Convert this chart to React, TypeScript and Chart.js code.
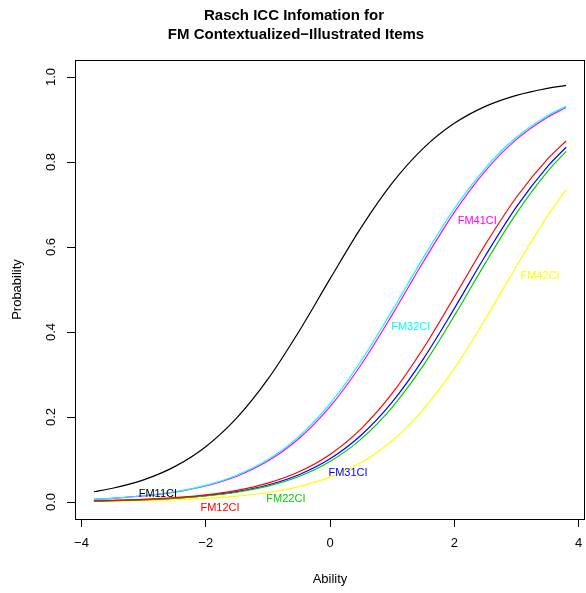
import React, { useEffect, useRef } from "react";
import { Chart, registerables } from "chart.js";

Chart.register(...registerables);

const abilities = [-3.8, -3.5, -3, -2.5, -2, -1.5, -1, -0.5, 0, 0.5, 1, 1.5, 2, 2.5, 3, 3.5, 3.8];

const fm11 = [0.0241, 0.0323, 0.0521, 0.0832, 0.1301, 0.1978, 0.289, 0.4013, 0.525, 0.6457, 0.7503, 0.832, 0.8909, 0.9309, 0.9569, 0.9734, 0.9802];
const fm12 = [0.00281, 0.0038, 0.00624, 0.01025, 0.01679, 0.02738, 0.04436, 0.07108, 0.112, 0.1722, 0.2554, 0.3612, 0.4825, 0.6059, 0.7171, 0.8069, 0.8494];
const fm22 = [0.00235, 0.00317, 0.00522, 0.00858, 0.01406, 0.02298, 0.03732, 0.0601, 0.09535, 0.148, 0.2227, 0.3208, 0.4378, 0.5622, 0.6792, 0.7773, 0.825];
const fm31 = [0.00252, 0.0034, 0.0056, 0.00919, 0.01507, 0.0246, 0.03992, 0.06416, 0.1016, 0.1571, 0.2351, 0.3363, 0.4551, 0.5793, 0.6943, 0.7892, 0.8348];
const fm32 = [0.00669, 0.00902, 0.01477, 0.02413, 0.03917, 0.06297, 0.09975, 0.1545, 0.2315, 0.3318, 0.4502, 0.5744, 0.69, 0.7858, 0.8581, 0.9089, 0.9309];
const fm41 = [0.00643, 0.00867, 0.0142, 0.0232, 0.03769, 0.06064, 0.09622, 0.1493, 0.2244, 0.323, 0.4403, 0.5646, 0.6813, 0.779, 0.8532, 0.9055, 0.9282];
const fm42 = [0.00139, 0.00187, 0.00308, 0.00507, 0.00833, 0.01365, 0.02231, 0.03626, 0.05841, 0.09279, 0.1443, 0.2175, 0.3143, 0.4304, 0.5548, 0.6726, 0.735];

const itemNames = ["FM11CI", "FM12CI", "FM22CI", "FM31CI", "FM32CI", "FM41CI", "FM42CI"];
const itemColors = ["#000000", "#FF0000", "#00CD00", "#0000FF", "#00FFFF", "#FF00FF", "#FFFF00"];
const itemSeries = [fm11, fm12, fm22, fm31, fm32, fm41, fm42];
const labelX = [-2.77, -1.77, -0.71, 0.29, 1.3, 2.37, 3.38];
const labelY = [0.019, -0.014, 0.007, 0.068, 0.412, 0.661, 0.532];

const xTicks = [-4, -2, 0, 2, 4];
const yTicks = [0, 0.2, 0.4, 0.6, 0.8, 1.0];
const titleLines = ["Rasch ICC Infomation for", "FM Contextualized\u2212Illustrated Items"];
const xTitle = "Ability";
const yTitle = "Probability";

const FONT = "'Liberation Sans', Arial, Helvetica, sans-serif";

export default function App() {
  const ref = useRef<HTMLCanvasElement | null>(null);

  useEffect(() => {
    const canvas = ref.current;
    if (!canvas) return;

    const decor = {
      id: "decor",
      afterDatasetsDraw(chart: any) {
        const { ctx, scales } = chart;
        const xs = scales.x;
        const ys = scales.y;
        ctx.save();
        ctx.font = `11px ${FONT}`;
        ctx.textAlign = "center";
        ctx.textBaseline = "middle";
        itemNames.forEach((n, i) => {
          ctx.fillStyle = itemColors[i];
          ctx.fillText(n, xs.getPixelForValue(labelX[i]), ys.getPixelForValue(labelY[i]));
        });
        ctx.restore();
      },
      afterDraw(chart: any) {
        const { ctx, chartArea, scales } = chart;
        const ys = scales.y;
        ctx.save();
        ctx.strokeStyle = "#000";
        ctx.lineWidth = 1;
        ctx.strokeRect(chartArea.left + 0.5, chartArea.top + 0.5, chartArea.right - chartArea.left - 1, chartArea.bottom - chartArea.top);
        ctx.fillStyle = "#000";
        ctx.font = `13px ${FONT}`;
        ctx.textAlign = "center";
        ctx.textBaseline = "middle";
        yTicks.forEach((v) => {
          const py = ys.getPixelForValue(v);
          ctx.save();
          ctx.translate(51, py);
          ctx.rotate(-Math.PI / 2);
          ctx.fillText(v.toFixed(1), 0, 0);
          ctx.restore();
        });
        ctx.save();
        ctx.translate(17, (chartArea.top + chartArea.bottom) / 2);
        ctx.rotate(-Math.PI / 2);
        ctx.fillText(yTitle, 0, 0);
        ctx.restore();
        ctx.fillText(xTitle, (chartArea.left + chartArea.right) / 2, 579);
        ctx.font = `bold 15px ${FONT}`;
        ctx.fillText(titleLines[0], 294, 16);
        ctx.fillText(titleLines[1], 296, 35);
        ctx.restore();
      },
    };

    const chart = new Chart(canvas, {
      type: "line",
      data: {
        datasets: itemSeries.map((s, i) => ({
          label: itemNames[i],
          data: s.map((y, j) => ({ x: abilities[j], y })),
          borderColor: itemColors[i],
          backgroundColor: itemColors[i],
          borderWidth: 1.2,
          pointRadius: 0,
          fill: false,
          cubicInterpolationMode: "monotone" as const,
        })),
      },
      options: {
        animation: false,
        responsive: false,
        maintainAspectRatio: false,
        layout: { padding: { left: 0, top: 60, right: 1, bottom: 0 } },
        plugins: {
          legend: { display: false },
          title: { display: false },
          tooltip: { enabled: false },
        },
        scales: {
          x: {
            type: "linear",
            min: -4.104,
            max: 4.104,
            afterBuildTicks: (s: any) => {
              s.ticks = xTicks.map((v) => ({ value: v }));
            },
            afterFit: (s: any) => {
              s.height = 74;
              s.paddingLeft = 0;
              s.paddingRight = 0;
            },
            border: { display: false },
            grid: { drawOnChartArea: false, drawTicks: true, tickLength: 8, color: "#000", lineWidth: 1 },
            ticks: {
              color: "#000",
              font: { family: FONT, size: 13 },
              padding: 9,
              maxRotation: 0,
              callback: (v: any) => (Number(v) < 0 ? "\u2212" + Math.abs(Number(v)) : String(v)),
            },
          },
          y: {
            type: "linear",
            min: -0.04,
            max: 1.04,
            afterBuildTicks: (s: any) => {
              s.ticks = yTicks.map((v) => ({ value: v }));
            },
            afterFit: (s: any) => {
              s.width = 75;
              s.paddingTop = 0;
              s.paddingBottom = 0;
            },
            border: { display: false },
            grid: { drawOnChartArea: false, drawTicks: true, tickLength: 8, color: "#000", lineWidth: 1 },
            ticks: { display: false },
          },
        },
      },
      plugins: [decor],
    });
    return () => chart.destroy();
  }, []);

  return (
    <div style={{ position: "fixed", left: 0, top: 0, width: 586, height: 593, background: "#fff" }}>
      <canvas ref={ref} width={586} height={593} style={{ width: 586, height: 593, display: "block" }} />
    </div>
  );
}
